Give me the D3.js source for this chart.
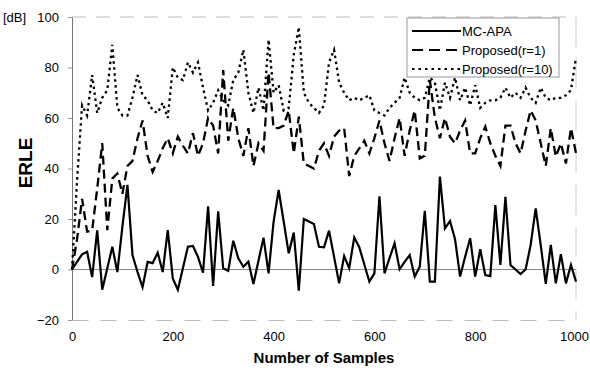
<!DOCTYPE html>
<html>
<head>
<meta charset="utf-8">
<script src="https://cdn.jsdelivr.net/npm/d3@7"></script>
<style>
  body { margin: 0; background: #fff; }
  text { font-family: "Liberation Sans", Arial, sans-serif; fill: #000; }
</style>
</head>
<body>
<div id="chart"></div>
<script>
const samples = [
  0, 10, 20, 30, 40, 50, 60, 70, 80, 90,
  100, 110, 120, 130, 140, 150, 160, 170, 180, 190,
  200, 210, 220, 230, 240, 250, 260, 270, 280, 290,
  300, 310, 320, 330, 340, 350, 360, 370, 380, 390,
  400, 410, 420, 430, 440, 450, 460, 470, 480, 490,
  500, 510, 520, 530, 540, 550, 560, 570, 580, 590,
  600, 610, 620, 630, 640, 650, 660, 670, 680, 690,
  700, 710, 720, 730, 740, 750, 760, 770, 780, 790,
  800, 810, 820, 830, 840, 850, 860, 870, 880, 890,
  900, 910, 920, 930, 940, 950, 960, 970, 980, 990, 1000
];

const mcApa = [
  0, 3, 6, 7, -3, 15.5, -8, 0.5, 9, -1,
  17, 33.5, 5.7, -1, -7, 3, 2.5, 6.7, -1, 15.6,
  -3.5, -8, 0.5, 9, 9.3, 5, -1.3, 25, -6.5, 23,
  0.5, -0.5, 11.4, 4.4, 1.1, 3.1, -5.7, 3.5, 12.6, -1.5,
  19, 31.5, 19, 6.4, 14.6, -8.4, 20, 19, 18, 9,
  8.8, 15.4, 5, -5.5, 5.3, 0.5, 12.7, 8.8, 2, -4.8,
  -1.5, 29, -1.5, 4.5, 10.4, 0.1, 3, 5.7, -2.8, 1.1,
  23.2, -4.8, -4.8, 36.8, 16.3, 19.2, 12, -2.8, 5, 12.4,
  -2.8, 8, -2.2, -2.6, 25.5, 1.8, 28.8, 1.8, 0, -1.8,
  0, 9.7, 24.2, 9.7, -5.7, 9.7, -5.5, 6.1, -5.5, 1.8, -4.8
];

const proposedR1 = [
  0, 12, 28, 15, 15.5, 32, 50, 15.6, 36, 38,
  30, 41, 43, 52, 59, 45, 38.7, 43, 48, 52,
  46, 52.6, 49, 46, 54, 45, 50, 60, 57, 46,
  79, 51, 64, 52, 45, 56, 41, 50, 47, 78,
  56, 56, 57, 63, 46, 60.5, 42, 41, 40, 47,
  50, 45, 52.6, 55, 56, 37, 45, 48, 51, 46,
  52, 59, 50, 43, 52, 60, 45, 55, 63, 44,
  45, 75, 60, 52, 60, 52.6, 50, 55, 59, 46,
  46, 52, 56.6, 50, 45, 41, 57, 57, 50, 46,
  55, 63, 59, 50, 41, 56, 44.7, 50, 42, 56, 46
];

const proposedR10 = [
  0, 35, 65, 61, 77, 62, 68, 71, 89, 64,
  61, 61, 68, 77, 69, 67, 63, 62, 66, 60,
  80, 76, 75, 82, 78, 82, 72, 63, 66, 71,
  67, 65, 75, 78, 87, 70, 62, 72, 63, 91,
  70, 73, 63, 64, 85, 96, 70, 66, 64, 62,
  65, 82, 87, 74, 70, 67, 68, 67, 68, 69,
  63, 62, 61, 64, 66, 68, 76, 70, 68, 67,
  68, 76, 74, 63, 74, 68, 76, 67, 72, 65,
  73, 64, 66, 67, 67, 68, 72, 68, 70, 68,
  72, 68, 66, 72, 68, 67, 68, 68, 69, 71, 84
];

const yTicks = [-20, 0, 20, 40, 60, 80, 100];
const xTicks = [0, 200, 400, 600, 800, 1000];
const seriesNames = ['MC-APA', 'Proposed(r=1)', 'Proposed(r=10)'];

const width = 590, height = 370;
const margin = { top: 17, right: 14, bottom: 50, left: 72 };
const innerW = width - margin.left - margin.right;
const innerH = height - margin.top - margin.bottom;

const svg = d3.select('#chart')
  .append('svg')
  .attr('width', width)
  .attr('height', height);

const g = svg.append('g')
  .attr('transform', `translate(${margin.left},${margin.top})`);

// Scales
const x = d3.scaleLinear().domain([0, 1000]).range([0, innerW]);
const y = d3.scaleLinear().domain([-20, 100]).range([innerH, 0]);

// faint frame (top, right), like the scanned original
g.append('line')
  .attr('x1', 0).attr('x2', innerW).attr('y1', 0).attr('y2', 0)
  .attr('stroke', '#bbb').attr('stroke-dasharray', '14,10');
g.append('line')
  .attr('x1', innerW).attr('x2', innerW).attr('y1', 0).attr('y2', innerH)
  .attr('stroke', '#ccc').attr('stroke-dasharray', '30,12');

// x axis along the bottom (-20)
const xAxis = g.append('g')
  .attr('transform', `translate(0,${innerH})`)
  .call(d3.axisBottom(x).tickValues(xTicks).tickFormat(d3.format('d')).tickSize(0).tickPadding(12));
xAxis.select('.domain').attr('stroke', '#bbb').attr('stroke-dasharray', '16,12');
xAxis.selectAll('text')
  .style('font-size', '13px')
  .style('font-family', '"Liberation Sans", Arial, sans-serif');
xAxis.selectAll('.tick text').filter(d => d === 1000).attr('dx', '-2');

// y axis
const yAxis = g.append('g')
  .call(d3.axisLeft(y).tickValues(yTicks).tickSize(4).tickSizeOuter(0).tickPadding(9));
yAxis.select('.domain').attr('stroke', '#777');
yAxis.selectAll('.tick line').attr('stroke', '#999');
yAxis.selectAll('text')
  .style('font-size', '13px')
  .style('font-family', '"Liberation Sans", Arial, sans-serif')
  .text(d => d < 0 ? '\u2212' + Math.abs(d) : d);

// zero line
g.append('line')
  .attr('x1', 0).attr('x2', innerW)
  .attr('y1', y(0)).attr('y2', y(0))
  .attr('stroke', '#888').attr('stroke-width', 1);

const line = d3.line()
  .x((d, i) => x(samples[i]))
  .y(d => y(d));

// Proposed(r=10) dotted
g.append('path')
  .datum(proposedR10)
  .attr('fill', 'none')
  .attr('stroke', '#000')
  .attr('stroke-width', 2.3)
  .attr('stroke-dasharray', '2.5,3.5')
  .attr('d', line);

// Proposed(r=1) dashed
g.append('path')
  .datum(proposedR1)
  .attr('fill', 'none')
  .attr('stroke', '#000')
  .attr('stroke-width', 2.3)
  .attr('stroke-dasharray', '9,5')
  .attr('d', line);

// MC-APA solid
g.append('path')
  .datum(mcApa)
  .attr('fill', 'none')
  .attr('stroke', '#000')
  .attr('stroke-width', 2.2)
  .attr('d', line);

// Legend
const legend = svg.append('g').attr('transform', 'translate(407,18)');
legend.append('rect')
  .attr('width', 152).attr('height', 59)
  .attr('fill', '#fff').attr('stroke', '#999');
const dashes = [null, '11,6', '2.5,4'];
seriesNames.forEach((name, i) => {
  const ly = 13 + i * 19;
  legend.append('line')
    .attr('x1', 5).attr('x2', 54).attr('y1', ly).attr('y2', ly)
    .attr('stroke', '#000').attr('stroke-width', 2)
    .attr('stroke-dasharray', dashes[i]);
  legend.append('text')
    .attr('x', 55).attr('y', ly).attr('dy', '0.35em')
    .style('font-size', '13px')
    .text(name);
});

// Labels
svg.append('text')
  .attr('x', 3).attr('y', 17).attr('dy', '0.35em')
  .style('font-size', '13px')
  .text('[dB]');

svg.append('text')
  .attr('transform', 'translate(32,163) rotate(-90)')
  .attr('text-anchor', 'middle')
  .style('font-size', '19px')
  .style('font-weight', 'bold')
  .text('ERLE');

svg.append('text')
  .attr('x', margin.left + innerW / 2).attr('y', 363)
  .attr('text-anchor', 'middle')
  .style('font-size', '15px')
  .style('font-weight', 'bold')
  .text('Number of Samples');
</script>
</body>
</html>
